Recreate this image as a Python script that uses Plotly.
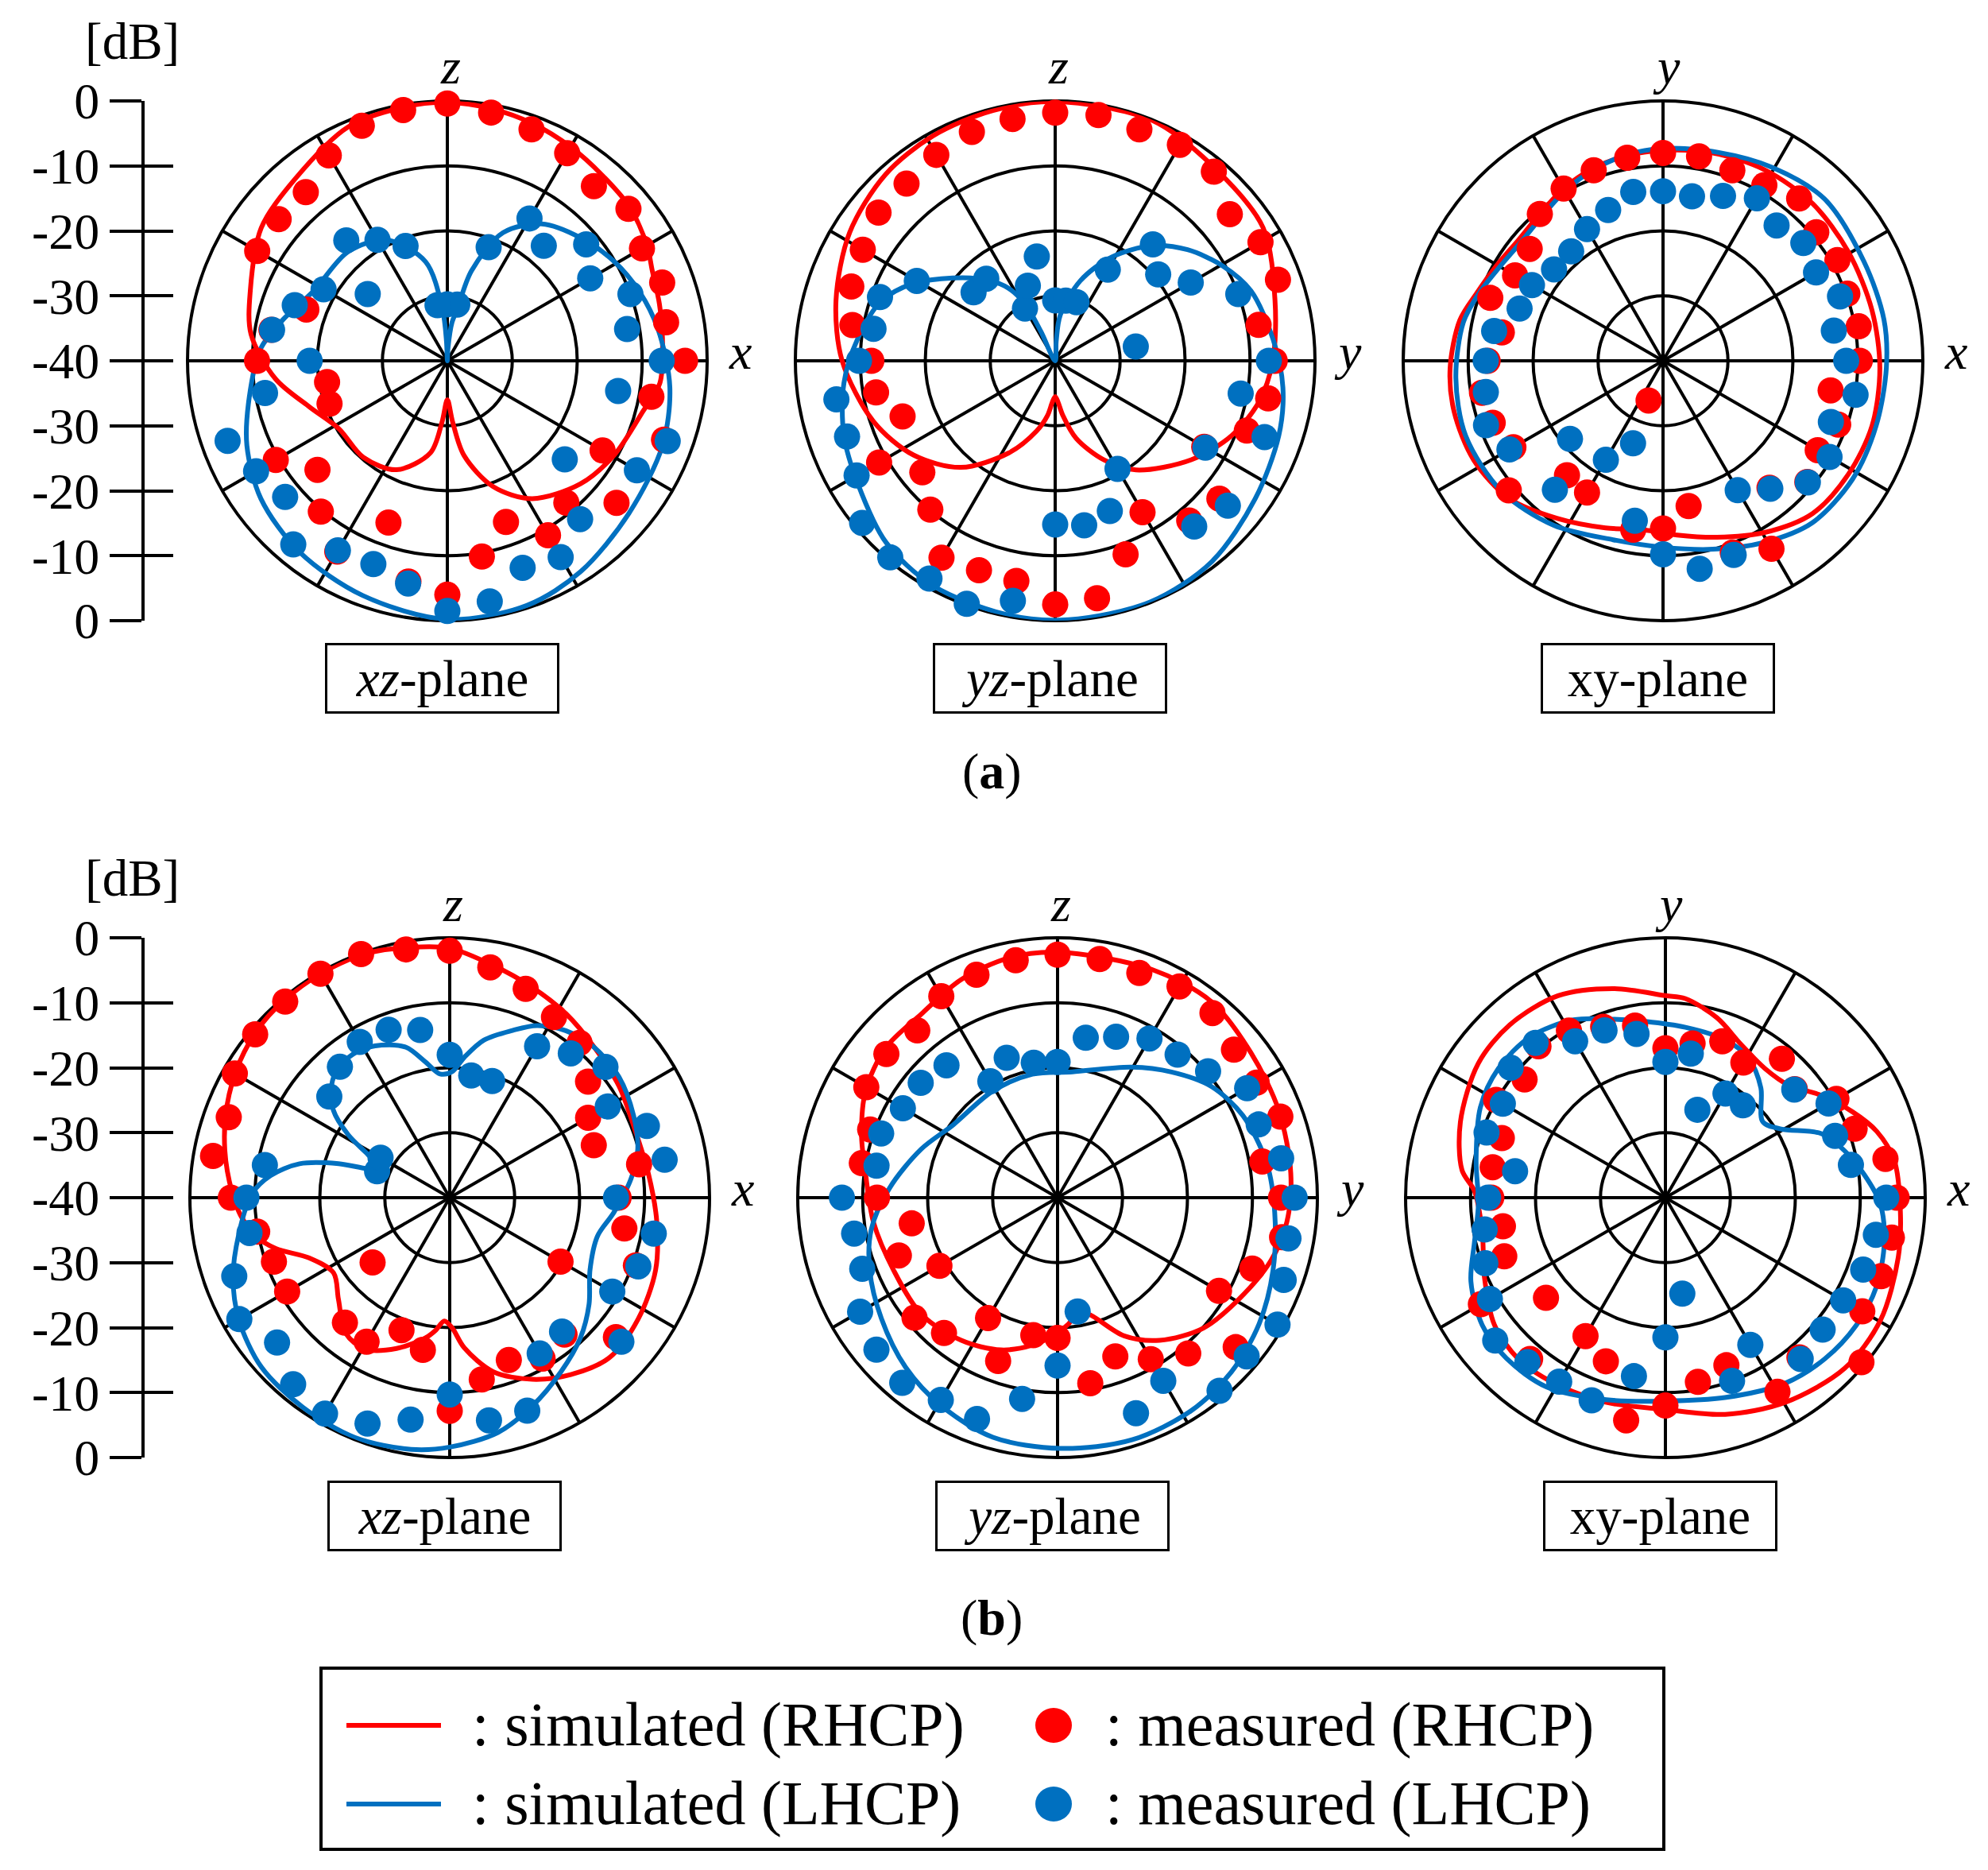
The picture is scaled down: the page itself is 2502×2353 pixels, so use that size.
import plotly.graph_objects as go

W, H = 2502, 2353
FONT = "Liberation Serif"
RED = "#FF0000"
BLUE = "#0070C0"

# ---------------- data (angles in degrees, clockwise from the top axis; values in dB) -------------
THETA_MEAS = [0, 10, 20, 30, 40, 50, 60, 70, 80, 90, 100, 110, 120, 130, 140, 150, 160, 170,
              180, 190, 200, 210, 220, 230, 240, 250, 260, 270, 280, 290, 300, 310, 320, 330, 340, 350]

# (a) xz-plane
A_XZ_MEAS_R = [-0.4, -1.2, -2.1, -3.1, -4.9, -3.6, -5.4, -4.8, -5.8, -3.4, -8.1, -4.5, -12.4, -6.0, -11.5, -9.0, -13.6, -9.4,
               -4.0, -5.5, -13.5, -6.1, -9.7, -13.9, -9.5, -20.7, -21.2, -10.7, -12.5, -16.9, -6.2, -6.1, -6.1, -3.5, -1.5, -0.8]
A_XZ_MEAS_L = [-31.3, -31.2, -21.4, -14.7, -16.9, -12.1, -14.6, -10.0, -11.9, -7.0, -13.3, -3.9, -6.3, -16.4, -8.2, -5.1, -6.1, -2.4,
               -1.5, -5.2, -6.7, -6.3, -3.1, -7.4, -6.0, -4.0, -11.5, -18.8, -12.6, -15.0, -18.0, -24.0, -15.8, -18.5, -21.2, -31.3]
A_XZ_SIM_R_TH = [0, 10, 20, 30, 40, 50, 60, 66, 75, 84, 96, 104.5, 119.5, 132.8, 148.4, 160, 170, 175, 180, 185,
                 190.4, 205, 221, 238, 251.6, 264, 277.7, 289.6, 305.5, 320, 337, 349.7]
A_XZ_SIM_R = [-0.2, -0.6, -1.2, -2.0, -2.8, -3.3, -4.5, -5.5, -6.2, -6.7, -7.1, -8.9, -10.5, -12.1, -15.1, -19.4, -25.2, -30.5, -34.0, -30.5,
              -25.6, -21.5, -20.3, -20.3, -17.6, -13.4, -9.5, -7.8, -4.8, -3.5, -0.9, -0.4]
A_XZ_SIM_L_TH = [0, 3, 7, 10.8, 15, 23.5, 34.6, 47.2, 59.3, 70, 81.5, 96.8, 111.5, 130, 147.7, 162, 180, 199.8, 217.7, 233.5,
                 247.1, 259.6, 273.7, 284, 297.8, 317.7, 333.4, 347.6, 354.6, 357.5]
A_XZ_SIM_L = [-40, -38, -34, -32, -25.7, -18.5, -14.4, -12.1, -10.1, -8.6, -7.2, -5.5, -4.4, -3.5, -1.6, -0.4, -0.2, -1.6, -2.8, -4.3,
              -6.5, -9.0, -11.2, -13.9, -16.8, -17.3, -19.2, -24.4, -32, -37]

# (a) yz-plane
A_YZ_MEAS_R = [-1.8, -1.6, -2.1, -1.6, -2.0, -4.9, -3.5, -3.5, -8.2, -6.2, -6.7, -8.6, -13.5, -7.0, -7.9, -13.1, -8.3, -2.9,
               -2.5, -5.6, -5.7, -5.0, -10.1, -13.3, -8.7, -15.0, -12.0, -11.7, -8.3, -6.6, -5.8, -4.5, -4.4, -3.4, -2.5, -2.2]
A_YZ_MEAS_L = [-30.7, -30.6, -30.4, -23.8, -16.6, -19.3, -15.9, -10.0, -27.4, -7.1, -11.0, -5.7, -13.3, -5.3, -6.7, -20.8, -15.4, -14.3,
               -14.8, -2.5, -0.2, -1.3, -0.5, -1.2, -4.7, -5.9, -5.8, -9.8, -11.6, -11.3, -15.4, -23.6, -23.5, -30.7, -27.7, -23.7]
A_YZ_SIM_R_TH = [0, 22, 40, 57.4, 74.6, 90, 101.4, 113, 126, 143.5, 153.8, 164.8, 172, 176, 180, 184, 188, 194.9, 206.8, 221.5,
                 236.4, 251.6, 270, 285.4, 302, 317.7, 331.5, 346]
A_YZ_SIM_R = [-0.1, -0.1, -1.5, -2.0, -4.9, -6.5, -8.0, -10.5, -14.1, -19.1, -23.0, -27.6, -31.5, -33.6, -34.5, -33.6, -31.5, -28.8, -24.1, -18.1,
              -13.8, -10.5, -7.2, -5.0, -2.7, -1.2, -0.6, -0.3]
A_YZ_SIM_L_TH = [3, 6.4, 17.4, 28.6, 40, 50, 60.7, 70.3, 84.3, 96.7, 108.5, 124.6, 142, 158.4, 177, 190.4, 208.5, 223, 238,
                 250.5, 264, 276.3, 289, 298.6, 305.8, 316.4, 326, 332, 334, 336]
A_YZ_SIM_L = [-37, -32.9, -27.1, -21.8, -16.9, -13.4, -10.3, -8.0, -6.3, -4.7, -3.7, -2.6, -0.8, -0.1, -0.1, -0.2, -0.6, -1.8, -4.2,
              -5.5, -7.3, -9.4, -11.7, -15.1, -18.4, -22.5, -26.1, -30, -35, -40]

# (a) xy-plane
A_XY_MEAS_R = [-8.0, -8.05, -8.8, -8.8, -7.4, -9.2, -9.0, -9.8, -9.4, -9.7, -13.8, -11.3, -12.5, -11.0, -14.5, -6.6, -8.6, -17.3,
               -14.2, -13.6, -33.5, -16.6, -17.0, -9.0, -13.4, -12.1, -11.7, -13.0, -14.8, -11.7, -13.7, -13.2, -10.5, -9.4, -8.8, -8.25]
A_XY_MEAS_L = [-13.9, -14.3, -13.0, -11.1, -12.8, -11.8, -12.8, -11.0, -13.3, -11.8, -9.9, -12.5, -10.4, -10.9, -14.3, -17.0, -8.2, -7.5,
               -10.2, -15.0, -26.5, -22.4, -14.1, -21.3, -12.7, -11.0, -12.3, -12.7, -13.6, -16.5, -16.7, -18.1, -18.0, -16.6, -15.3, -13.6]
A_XY_SIM_R_TH = [0, 13.5, 28, 43.5, 59.5, 76.3, 91.9, 107.3, 121.5, 135.6, 149.4, 163, 175.4, 186, 199, 213.8, 228, 242.3, 256.3, 268,
                 281.3, 290, 300, 310, 320, 330, 340, 350]
A_XY_SIM_R = [-7.6, -7.1, -6.7, -6.6, -6.9, -6.9, -6.6, -6.3, -6.55, -7.1, -9.3, -11.6, -13.1, -13.8, -12.8, -10.8, -8.25, -7.1, -6.9, -7.2,
              -8.1, -9.5, -10.5, -11.0, -10.5, -9.4, -8.5, -7.9]
A_XY_SIM_L_TH = [0, 15, 29.5, 44.9, 63.7, 79.4, 91.8, 107, 122, 137.3, 150.8, 165.2, 180, 195.6, 213.6, 231, 249.2, 265.3, 281, 290,
                 300, 310, 320, 330, 340, 350]
A_XY_SIM_L = [-7.3, -6.8, -5.8, -4.8, -5.5, -5.4, -5.6, -5.7, -5.6, -6.1, -8.0, -10.0, -11.3, -11.4, -9.6, -8.05, -7.5, -8.0, -8.7, -9.8,
              -11.0, -11.5, -11.0, -9.8, -8.7, -7.8]

# (b) xz-plane
B_XZ_MEAS_R = [-2.0, -4.0, -5.8, -7.9, -8.9, -12.2, -15.4, -16.4, -10.4, -14.0, -12.7, -9.5, -20.3, -6.6, -12.5, -11.4, -13.4, -11.6,
               -7.2, -16.2, -18.3, -14.4, -14.9, -24.5, -11.1, -11.2, -9.9, -6.3, -3.0, -3.8, -1.8, -0.9, -0.6, -0.2, -0.1, -1.2]
B_XZ_MEAS_L = [-18.0, -20.9, -20.9, -13.1, -11.0, -8.7, -11.9, -7.7, -6.4, -14.4, -8.1, -9.1, -11.1, -5.5, -13.1, -12.3, -5.1, -5.2,
               -9.7, -5.3, -3.0, -1.6, -2.5, -5.3, -2.6, -4.7, -8.7, -8.7, -11.1, -28.1, -27.7, -15.8, -13.7, -12.3, -12.5, -13.8]
B_XZ_SIM_R_TH = [0, 10.4, 21.3, 32.3, 44, 56.7, 68.5, 83, 96.7, 109.4, 122.7, 135, 145.6, 155.6, 166, 174.5, 179, 182.5, 186, 189.8,
                 199.4, 209.3, 217.5, 227.6, 237.1, 246.7, 253.7, 258.7, 264.7, 271.3, 282, 292.4, 302.8, 312.7, 322.5, 332.5, 341.6, 351.2]
B_XZ_SIM_R = [-1.6, -3.6, -5.2, -6.5, -7.9, -8.8, -9.6, -9.2, -7.9, -6.4, -5.5, -5.2, -7.0, -9.3, -12.4, -16.8, -20.0, -21.0, -19.5, -18.1,
              -15.4, -13.3, -13.7, -16.8, -18.7, -16.5, -12.1, -9.6, -7.8, -6.5, -4.6, -2.9, -1.5, -0.6, -0.3, -0.2, -0.3, -1.0]
B_XZ_SIM_L_TH = [1.1, 5.9, 12.2, 20.6, 26.9, 34.8, 44, 54.5, 65.9, 75.5, 83.9, 95, 104.7, 117.3, 127.4, 137, 147.4, 158.4, 168.4, 180,
                 188.7, 201.6, 215, 228, 240, 250, 260, 271, 277, 282.7, 287, 289.4, 293, 297.9, 301.8, 306.9, 313.2, 319.6, 327.8, 336,
                 343.8, 349.9, 355.5]
B_XZ_SIM_L = [-20.6, -18.3, -15.2, -12.5, -10.3, -8.7, -7.9, -8.0, -9.0, -10.1, -11.9, -14.6, -16.5, -15.7, -13.0, -10.5, -8.2, -5.5, -3.1, -1.6,
              -0.8, -0.3, -0.6, -1.0, -2.5, -4.5, -7.0, -9.5, -12.2, -16.3, -22.1, -26.6, -28.6, -25.7, -21.6, -17.6, -15.0, -13.6, -13.4, -14.3,
              -15.9, -18.8, -20.9]

# (b) yz-plane
B_YZ_MEAS_R = [-2.6, -2.7, -3.2, -2.45, -2.9, -4.55, -4.6, -3.5, -8.0, -5.6, -4.9, -8.1, -11.3, -4.2, -8.7, -11.3, -14.0, -11.0,
               -18.4, -18.5, -13.25, -18.6, -12.8, -11.25, -19.0, -14.0, -17.2, -12.2, -9.4, -9.3, -6.0, -5.6, -6.4, -4.2, -3.5, -2.9]
B_YZ_MEAS_L = [-19.1, -15.0, -13.65, -11.7, -11.25, -9.75, -6.3, -7.05, -5.05, -3.5, -3.9, -2.95, -0.9, -2.0, -1.2, -7.45, -4.7, -22.2,
               -14.15, -8.55, -3.75, -4.05, -2.8, -3.6, -4.9, -8.0, -8.2, -6.8, -11.7, -11.1, -12.5, -12.5, -13.4, -19.3, -17.1, -18.9]
B_YZ_SIM_R_TH = [0, 22.4, 38.1, 53.1, 68.5, 84, 96, 106.4, 119.2, 131.9, 144.4, 154.3, 165.2, 170, 175, 180.5, 189.6, 200.4, 214, 229.5,
                 246, 262.5, 277.2, 287.8, 299, 311, 323.5, 336.1, 348.5]
B_YZ_SIM_R = [-2.2, -2.0, -1.65, -2.8, -3.4, -3.9, -4.5, -5.75, -8.0, -9.9, -13.0, -16.4, -21.5, -22.0, -20.5, -19.1, -17.0, -15.0, -13.5, -12.4,
              -12.4, -11.4, -10.2, -8.3, -6.2, -4.9, -4.8, -3.3, -2.35]
B_YZ_SIM_L_TH = [6.7, 29.6, 42.2, 54.1, 66.1, 80.8, 93.8, 108.6, 122, 135.1, 147.8, 162.9, 179.4, 195.1, 209.2, 221.9, 235.5, 248.9,
                 260.3, 273.3, 289.5, 304.8, 328.7, 348.5]
B_YZ_SIM_L = [-20.5, -16.9, -13.9, -10.8, -8.8, -7.35, -6.5, -5.0, -3.4, -2.1, -1.3, -1.0, -1.4, -1.8, -3.3, -4.95, -7.1, -9.0,
              -10.9, -14.1, -17.7, -20.4, -20.8, -20.6]

# (b) xy-plane
B_XY_MEAS_R = [-17.0, -15.9, -14.4, -16.0, -12.1, -14.0, -9.6, -9.0, -5.6, -4.4, -4.6, -4.65, -5.0, -0.6, -7.9, -5.5, -12.55, -11.2,
               -8.0, -5.2, -13.2, -15.4, -7.6, -16.0, -7.2, -13.6, -14.6, -13.2, -13.0, -13.2, -9.9, -11.7, -9.6, -10.3, -12.0, -13.1]
B_XY_MEAS_L = [-19.1, -17.5, -25.6, -21.5, -21.45, -14.1, -11.0, -12.2, -11.0, -6.0, -7.1, -7.6, -8.4, -8.4, -7.6, -13.85, -10.0, -25.0,
               -18.5, -12.1, -6.8, -7.3, -6.95, -5.8, -8.8, -10.5, -11.75, -12.7, -16.5, -10.7, -11.1, -8.9, -8.9, -12.2, -12.6, -14.4]
B_XY_SIM_R_TH = [0, 5.7, 16, 26.3, 37.6, 47.7, 56.6, 65.4, 72.6, 80.8, 92.7, 104.3, 119.6, 133.6, 149.7, 164.6, 180, 196.3, 211, 222.4,
                 233.4, 246.5, 259.1, 271.9, 277.7, 290.3, 305.6, 318, 332, 346.1]
B_XY_SIM_R = [-8.9, -9.2, -11.2, -13.7, -14.9, -14.3, -11.35, -8.3, -5.9, -4.3, -3.8, -3.0, -1.9, -1.9, -3.5, -5.4, -7.4, -7.2, -6.7, -6.4,
              -7.2, -9.6, -11.3, -10.6, -8.4, -6.35, -4.55, -4.2, -4.8, -6.85]
B_XY_SIM_L_TH = [6.7, 20.7, 31, 41, 52.1, 59.3, 67.6, 75.3, 83.5, 91.7, 101.6, 112.8, 123.7, 135.3, 147.2, 163.4, 180, 196.3, 212.1, 224.7,
                 235.2, 246.7, 256.8, 268.1, 281.1, 296, 307.7, 319.9, 332.7, 343.8, 353.6]
B_XY_SIM_L = [-13.6, -14.0, -15.05, -17.6, -21.0, -19.3, -14.1, -11.5, -9.15, -6.9, -5.6, -4.75, -4.65, -5.1, -6.0, -7.9, -8.7, -7.6, -5.6, -5.2,
              -5.65, -7.4, -9.8, -11.2, -10.3, -8.3, -7.5, -7.65, -9.2, -11.4, -12.7]

# scale / labels
R_RANGE = [-40, 0]
RING_VALUES = [-30, -20, -10]
SCALE_TICKS = [-40, -30, -20, -10, 0, 10, 20, 30, 40]
SCALE_TEXT = ["0", "-10", "-20", "-30", "-40", "-30", "-20", "-10", "0"]
PANEL_TITLES = ["<i>xz</i>-plane", "<i>yz</i>-plane", "xy-plane", "<i>xz</i>-plane", "<i>yz</i>-plane", "xy-plane"]
TOP_AXIS = ["z", "z", "y", "z", "z", "y"]
RIGHT_AXIS = ["x", "y", "x", "x", "y", "x"]
ROW_LABELS = ["(<b>a</b>)", "(<b>b</b>)"]
LEGEND_NAMES = [": simulated (RHCP)", ": measured (RHCP)", ": simulated (LHCP)", ": measured (LHCP)"]
LEGEND_COLORS = [RED, RED, BLUE, BLUE]
LEGEND_KINDS = ["line", "dot", "line", "dot"]

# ---------------- layout geometry (pixels) ----------------
OFF = 8          # page offset of the rendered figure
R_PX = 327
CENTERS = [(563, 454), (1328, 454), (2093, 454), (566, 1507), (1331, 1507), (2096, 1507)]
DATA = [
    (A_XZ_MEAS_R, A_XZ_MEAS_L, A_XZ_SIM_R_TH, A_XZ_SIM_R, A_XZ_SIM_L_TH, A_XZ_SIM_L),
    (A_YZ_MEAS_R, A_YZ_MEAS_L, A_YZ_SIM_R_TH, A_YZ_SIM_R, A_YZ_SIM_L_TH, A_YZ_SIM_L),
    (A_XY_MEAS_R, A_XY_MEAS_L, A_XY_SIM_R_TH, A_XY_SIM_R, A_XY_SIM_L_TH, A_XY_SIM_L),
    (B_XZ_MEAS_R, B_XZ_MEAS_L, B_XZ_SIM_R_TH, B_XZ_SIM_R, B_XZ_SIM_L_TH, B_XZ_SIM_L),
    (B_YZ_MEAS_R, B_YZ_MEAS_L, B_YZ_SIM_R_TH, B_YZ_SIM_R, B_YZ_SIM_L_TH, B_YZ_SIM_L),
    (B_XY_MEAS_R, B_XY_MEAS_L, B_XY_SIM_R_TH, B_XY_SIM_R, B_XY_SIM_L_TH, B_XY_SIM_L),
]


def px(x):
    return (x - OFF) / W


def py(y):
    return 1 - (y - OFF) / H


def closed(th, r):
    return list(th) + [th[0]], list(r) + [r[0]]


fig = go.Figure()
layout = {}

for i, ((cx, cy), d) in enumerate(zip(CENTERS, DATA)):
    meas_r, meas_l, sr_th, sr, sl_th, sl = d
    sub = "polar" if i == 0 else f"polar{i + 1}"
    th, rr = closed(sr_th, sr)
    fig.add_trace(go.Scatterpolar(theta=th, r=rr, mode="lines", subplot=sub,
                                  line=dict(color=RED, width=6, shape="spline", smoothing=0.9),
                                  name="simulated (RHCP)", showlegend=False, hoverinfo="skip",
                                  cliponaxis=False))
    th, rr = closed(sl_th, sl)
    fig.add_trace(go.Scatterpolar(theta=th, r=rr, mode="lines", subplot=sub,
                                  line=dict(color=BLUE, width=6, shape="spline", smoothing=0.9),
                                  name="simulated (LHCP)", showlegend=False, hoverinfo="skip",
                                  cliponaxis=False))
    fig.add_trace(go.Scatterpolar(theta=THETA_MEAS, r=meas_r, mode="markers", subplot=sub,
                                  marker=dict(color=RED, size=33, line=dict(width=0)),
                                  name="measured (RHCP)", showlegend=False, cliponaxis=False))
    fig.add_trace(go.Scatterpolar(theta=THETA_MEAS, r=meas_l, mode="markers", subplot=sub,
                                  marker=dict(color=BLUE, size=33, line=dict(width=0)),
                                  name="measured (LHCP)", showlegend=False, cliponaxis=False))

    layout[sub] = dict(
        domain=dict(x=[px(cx - R_PX), px(cx + R_PX)], y=[py(cy + R_PX), py(cy - R_PX)]),
        bgcolor="white",
        radialaxis=dict(range=R_RANGE, tickmode="array", tickvals=RING_VALUES, showticklabels=False,
                        ticks="", showline=False, gridcolor="black", gridwidth=3.5, layer="below traces"),
        angularaxis=dict(rotation=90, direction="clockwise", tickmode="linear", tick0=0, dtick=30,
                         showticklabels=False, ticks="", gridcolor="black", gridwidth=3.5,
                         showline=True, linecolor="black", linewidth=4, layer="below traces"),
    )

# dB scale axes (left), one per row
ROW_Y = [454, 1507]
axis_font = dict(family=FONT, size=64, color="black")
layout["xaxis"] = dict(domain=[0, 0.02], range=[0, 1], visible=False, fixedrange=True)
for k, cy in enumerate(ROW_Y):
    main = "yaxis" if k == 0 else "yaxis3"
    over = "yaxis2" if k == 0 else "yaxis4"
    main_id = "y" if k == 0 else "y3"
    layout[main] = dict(anchor="free", position=px(180), domain=[py(cy + R_PX), py(cy - R_PX)],
                        range=[-40, 40], tickmode="array", tickvals=SCALE_TICKS, ticktext=SCALE_TEXT,
                        ticks="outside", ticklen=40, tickwidth=4, tickcolor="black",
                        showline=True, linewidth=4, linecolor="black", showgrid=False, zeroline=False,
                        tickfont=axis_font, fixedrange=True, automargin=False)
    layout[over] = dict(overlaying=main_id, anchor="free", position=px(180), range=[-40, 40],
                        tickmode="array", tickvals=SCALE_TICKS, ticks="inside", ticklen=37, tickwidth=4,
                        tickcolor="black", showticklabels=False, showline=False, showgrid=False,
                        zeroline=False, fixedrange=True, automargin=False)
for yid in ["y", "y2", "y3", "y4"]:
    fig.add_trace(go.Scatter(x=[None], y=[None], xaxis="x", yaxis=yid, showlegend=False,
                             hoverinfo="skip", mode="markers"))

# annotations
ann = []
for cy in ROW_Y:
    ann.append(dict(text="[dB]", x=px(167), y=py(cy - 402), xref="paper", yref="paper", showarrow=False,
                    font=dict(family=FONT, size=65, color="black"), xanchor="center", yanchor="middle"))
for i, (cx, cy) in enumerate(CENTERS):
    ann.append(dict(text=f"<i>{TOP_AXIS[i]}</i>", x=px(cx + 4), y=py(cy - 370), xref="paper", yref="paper",
                    showarrow=False, font=dict(family=FONT, size=64, color="black"),
                    xanchor="center", yanchor="middle"))
    ann.append(dict(text=f"<i>{RIGHT_AXIS[i]}</i>", x=px(cx + 368), y=py(cy - 12), xref="paper", yref="paper",
                    showarrow=False, font=dict(family=FONT, size=64, color="black"),
                    xanchor="center", yanchor="middle"))
    ann.append(dict(text=PANEL_TITLES[i], x=px(cx - 7), y=py(cy + 400), xref="paper", yref="paper",
                    showarrow=False, font=dict(family=FONT, size=65, color="black"),
                    xanchor="center", yanchor="middle", bordercolor="black", borderwidth=3, borderpad=0,
                    width=289, height=83, bgcolor="white"))
for lbl, yy in zip(ROW_LABELS, [971, 2035]):
    ann.append(dict(text=lbl, x=px(1248), y=py(yy), xref="paper", yref="paper", showarrow=False,
                    font=dict(family=FONT, size=64, color="black"), xanchor="center", yanchor="middle"))

# legend box (drawn as a framed key)
shapes = [dict(type="rect", xref="paper", yref="paper", x0=px(404), x1=px(2094), y0=py(2327), y1=py(2099),
               line=dict(color="black", width=4), fillcolor="rgba(0,0,0,0)")]
KEY_X = [436, 1326, 436, 1326]
KEY_Y = [2171, 2171, 2270, 2270]
TEXT_X = [592, 1389, 592, 1389]
for name, col, kind, kx, ky, tx in zip(LEGEND_NAMES, LEGEND_COLORS, LEGEND_KINDS, KEY_X, KEY_Y, TEXT_X):
    if kind == "line":
        shapes.append(dict(type="line", xref="paper", yref="paper", x0=px(kx), x1=px(kx + 119),
                           y0=py(ky), y1=py(ky), line=dict(color=col, width=6)))
    else:
        shapes.append(dict(type="circle", xref="paper", yref="paper", x0=px(kx - 23), x1=px(kx + 23),
                           y0=py(ky + 22), y1=py(ky - 22), line=dict(width=0), fillcolor=col))
    ann.append(dict(text=name, x=px(tx), y=py(ky - 2), xref="paper", yref="paper", showarrow=False,
                    font=dict(family=FONT, size=78, color="black"), xanchor="left", yanchor="middle"))

fig.update_layout(
    width=W, height=H,
    margin=dict(l=0, r=0, t=0, b=0, pad=0, autoexpand=False),
    paper_bgcolor="white", plot_bgcolor="white",
    font=dict(family=FONT, color="black"),
    showlegend=False,
    annotations=ann,
    shapes=shapes,
    **layout,
)

fig.write_html("out.html")
